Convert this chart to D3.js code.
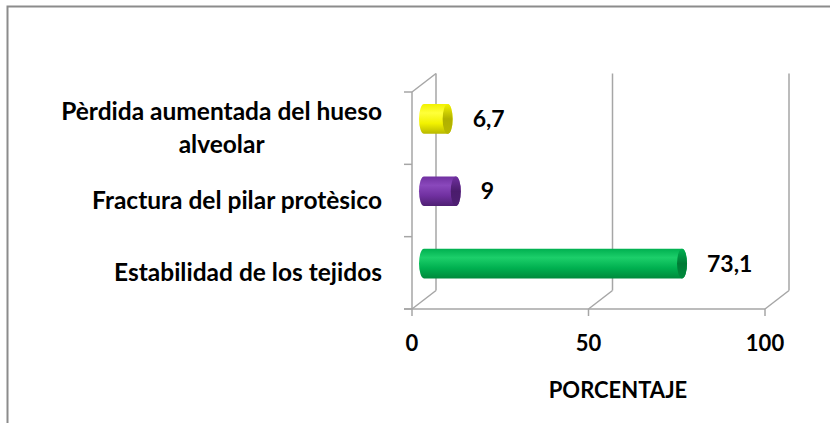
<!DOCTYPE html>
<html>
<head>
<meta charset="utf-8">
<script src="https://cdn.jsdelivr.net/npm/d3@7"></script>
<style>
  body { margin: 0; background: #fff; }
  text { font-family: Lato, Carlito, Calibri, sans-serif; font-weight: bold; fill: #000; }
</style>
</head>
<body>
<div id="chart"></div>
<script>
const categories = [
  ['Pèrdida aumentada del hueso', 'alveolar'],
  ['Fractura del pilar protèsico'],
  ['Estabilidad de los tejidos']
];
const values = [6.7, 9, 73.1];
const valueLabels = ['6,7', '9', '73,1'];
const tickValues = [0, 50, 100];
const axisTitle = 'PORCENTAJE';

const width = 830;
const height = 423;
const depth = { dx: 24, dy: -18.5 };

const colors = [
  { light: '#ffff3a', base: '#f2f200', dark: '#b8b800', cap: '#b0b000' },
  { light: '#8a48bc', base: '#7030a0', dark: '#4e1f72', cap: '#4a1c6c' },
  { light: '#1ccf6a', base: '#00b050', dark: '#008a3c', cap: '#007a35' }
];

const svg = d3.select('#chart')
  .append('svg')
  .attr('width', width)
  .attr('height', height);

// outer frame
svg.append('rect')
  .attr('x', 7.5)
  .attr('y', 6.5)
  .attr('width', width + 20)
  .attr('height', height + 20)
  .attr('fill', 'none')
  .attr('stroke', '#8c8c8c')
  .attr('stroke-width', 2);

const x = d3.scaleLinear()
  .domain([0, 100])
  .range([412, 765]);

const y = d3.scaleBand()
  .domain(d3.range(categories.length))
  .range([92, 309]);

const plotBottom = y.range()[1];
const plotTop = y.range()[0];

const grid = svg.append('g')
  .attr('stroke', '#a6a6a6')
  .attr('stroke-width', 1.5)
  .attr('fill', 'none');

// back walls: verticals and floor diagonals
tickValues.forEach(t => {
  grid.append('line')
    .attr('x1', x(t) + depth.dx).attr('y1', plotTop + depth.dy)
    .attr('x2', x(t) + depth.dx).attr('y2', plotBottom + depth.dy);
  grid.append('line')
    .attr('x1', x(t)).attr('y1', plotBottom)
    .attr('x2', x(t) + depth.dx).attr('y2', plotBottom + depth.dy);
});
grid.append('line')
  .attr('x1', x(0)).attr('y1', plotTop)
  .attr('x2', x(0) + depth.dx).attr('y2', plotTop + depth.dy);

// front axes
grid.append('line')
  .attr('x1', x(0)).attr('y1', plotTop)
  .attr('x2', x(0)).attr('y2', plotBottom);
grid.append('line')
  .attr('x1', x(0) - 8).attr('y1', plotBottom)
  .attr('x2', x(100)).attr('y2', plotBottom);
d3.range(categories.length + 1).forEach(i => {
  const yy = plotTop + i * y.step();
  grid.append('line')
    .attr('x1', x(0) - 8).attr('y1', yy)
    .attr('x2', x(0)).attr('y2', yy);
});
tickValues.forEach(t => {
  grid.append('line')
    .attr('x1', x(t)).attr('y1', plotBottom)
    .attr('x2', x(t)).attr('y2', plotBottom + 7);
});

// gradients
const defs = svg.append('defs');
colors.forEach((c, i) => {
  const g = defs.append('linearGradient')
    .attr('id', 'body' + i)
    .attr('x1', 0).attr('y1', 0).attr('x2', 0).attr('y2', 1);
  g.append('stop').attr('offset', '0%').attr('stop-color', c.base);
  g.append('stop').attr('offset', '30%').attr('stop-color', c.light);
  g.append('stop').attr('offset', '65%').attr('stop-color', c.base);
  g.append('stop').attr('offset', '100%').attr('stop-color', c.dark);
  const gc = defs.append('linearGradient')
    .attr('id', 'cap' + i)
    .attr('x1', 0).attr('y1', 0).attr('x2', 0).attr('y2', 1);
  gc.append('stop').attr('offset', '0%').attr('stop-color', c.base);
  gc.append('stop').attr('offset', '50%').attr('stop-color', c.cap);
  gc.append('stop').attr('offset', '100%').attr('stop-color', c.dark);
});

// cylinders
const barH = y.bandwidth() * 0.41;
const rx = 5;
const mid = { dx: depth.dx / 2, dy: depth.dy / 2 };

const bars = svg.append('g');
values.forEach((v, i) => {
  const cy = y(i) + y.bandwidth() / 2 + mid.dy;
  const x0 = x(0) + mid.dx;
  const x1 = x(v) + mid.dx;
  const t = cy - barH / 2;
  const b = cy + barH / 2;
  const ry = barH / 2;
  bars.append('path')
    .attr('d', `M${x0},${t} L${x1},${t} A${rx},${ry} 0 0 1 ${x1},${b} L${x0},${b} A${rx},${ry} 0 0 1 ${x0},${t} Z`)
    .attr('fill', `url(#body${i})`);
  bars.append('ellipse')
    .attr('cx', x1).attr('cy', cy)
    .attr('rx', rx).attr('ry', ry)
    .attr('fill', `url(#cap${i})`);

  svg.append('text')
    .attr('x', x1 + rx + 20)
    .attr('y', cy)
    .attr('dy', '0.35em')
    .attr('font-size', 23)
    .text(valueLabels[i]);
});

// category labels
const labelRight = 382;
categories.forEach((lines, i) => {
  const cy = y(i) + y.bandwidth() / 2;
  const g = svg.append('text')
    .attr('font-size', 24.5)
    .attr('text-anchor', 'middle');
  const spans = lines.map((l, k) => g.append('tspan')
    .attr('y', cy + (k - (lines.length - 1) / 2) * 33)
    .attr('dy', '0.35em')
    .text(l));
  const w = d3.max(spans, s => s.node().getComputedTextLength());
  spans.forEach(s => s.attr('x', labelRight - w / 2));
});

// tick labels
tickValues.forEach(t => {
  svg.append('text')
    .attr('x', x(t))
    .attr('y', 343)
    .attr('dy', '0.35em')
    .attr('text-anchor', 'middle')
    .attr('font-size', 22)
    .text(t);
});

svg.append('text')
  .attr('x', 618)
  .attr('y', 390)
  .attr('dy', '0.35em')
  .attr('text-anchor', 'middle')
  .attr('font-size', 22)
  .text(axisTitle);
</script>
</body>
</html>
